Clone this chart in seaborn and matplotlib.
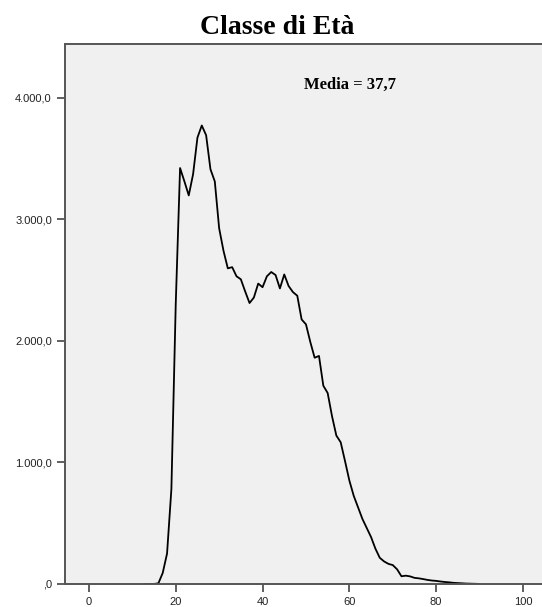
import pandas as pd
import matplotlib
matplotlib.use("Agg")
import matplotlib.pyplot as plt
import seaborn as sns

# age (years) and frequency
eta = list(range(13, 91))
frequenza = [0, 0, 0, 5, 90, 250, 780, 2300, 3420, 3310,
             3195, 3370, 3670, 3770, 3690, 3410, 3310, 2925, 2740, 2595,
             2605, 2530, 2505, 2405, 2310, 2355, 2470, 2440, 2530, 2565,
             2540, 2430, 2545, 2450, 2400, 2370, 2175, 2135, 1990, 1860,
             1875, 1630, 1570, 1380, 1220, 1165, 1010, 850, 725, 630,
             535, 460, 385, 290, 215, 185, 165, 155, 120, 63,
             68, 62, 50, 46, 40, 33, 28, 25, 20, 16,
             13, 9, 7, 5, 3, 2, 1, 0]

x_ticks = [0, 20, 40, 60, 80, 100]
y_ticks = [0, 1000, 2000, 3000, 4000]
y_tick_labels = [",0", "1.000,0", "2.000,0", "3.000,0", "4.000,0"]

titolo = "Classe di Età"
media_txt = "Media = 37,7"

df = pd.DataFrame({"eta": eta, "frequenza": frequenza})

sns.set_style("white")
plt.rcParams["font.family"] = ["Liberation Sans", "DejaVu Sans"]

fig = plt.figure(figsize=(5.42, 6.07), dpi=100, facecolor="white")
ax = fig.add_axes([0.12, 0.038, 0.885, 0.8895])
ax.set_facecolor("#f0f0f0")

sns.lineplot(data=df, x="eta", y="frequenza", color="black", linewidth=1.3, ax=ax)

ax.set_xlim(-5.5, 105)
ax.set_ylim(0, 4440)
ax.set_xticks(x_ticks)
ax.set_yticks(y_ticks)
ax.set_yticklabels(y_tick_labels)
ax.set_xlabel("")
ax.set_ylabel("")
ax.tick_params(axis="both", direction="out", length=6, width=1.2,
               color="#444444", labelsize=8, labelcolor="#222222",
               left=True, bottom=True)

for side in ["left", "bottom", "top"]:
    ax.spines[side].set_color("#555555")
    ax.spines[side].set_linewidth(1.4)
ax.spines["right"].set_visible(False)

ax.text(0.594, 0.925, media_txt, transform=ax.transAxes, ha="center", va="center",
        fontsize=12, fontweight="bold", family="Liberation Serif", color="black")
fig.text(0.511, 0.955, titolo, ha="center", va="center",
         fontsize=20, fontweight="bold", family="Liberation Serif", color="black")

fig.savefig("out.png", dpi=100)
